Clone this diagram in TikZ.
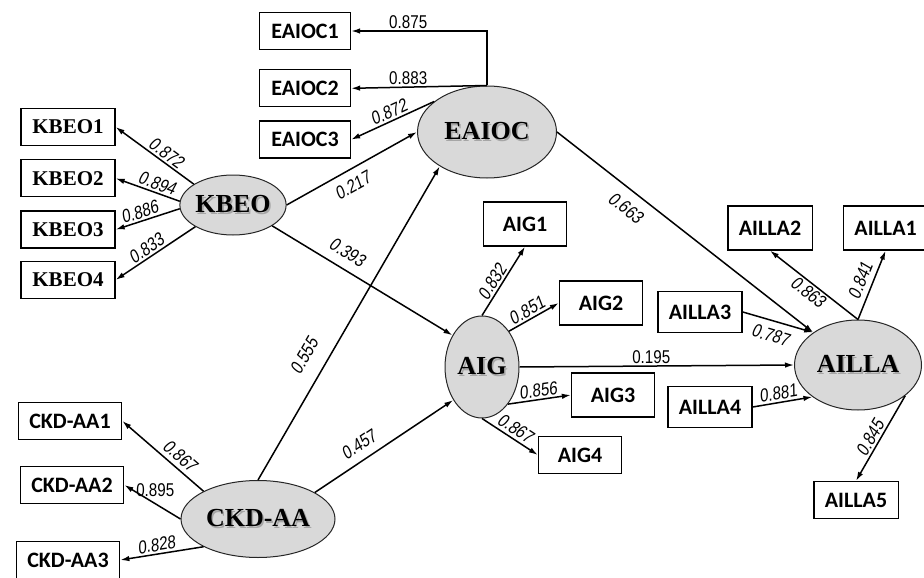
\documentclass[tikz,border=0pt]{standalone}
\usepackage{fontspec}
\usepackage{tikz}
\usetikzlibrary{positioning,shapes,arrows.meta}
\newfontfamily\sansfam{Carlito}
\newfontfamily\serfam{Liberation Serif}
\newfontfamily\numfam[FakeStretch=0.82]{Liberation Sans}
\newfontfamily\numslfam[FakeStretch=0.82,FakeSlant=0.15]{Liberation Sans}
\newcommand{\indfont}{\sansfam\bfseries\fontsize{22}{24}\selectfont}
\newcommand{\serind}{\serfam\bfseries\fontsize{21}{23}\selectfont}
\newcommand{\latfont}{\serfam\bfseries\fontsize{26}{28}\selectfont}
\newcommand{\coeffont}{\numfam\fontsize{18.5}{20}\selectfont}
\newcommand{\coefslfont}{\numslfam\fontsize{18.5}{20}\selectfont}
\newcommand{\shtext}[1]{\makebox[0pt][l]{\hspace{1.6pt}\raisebox{-1.6pt}{\color{black!35}#1}}#1}
\tikzstyle{ind}=[rectangle,fill=white,draw=black,line width=1.3pt,font=\indfont,minimum width=83pt,minimum height=37pt,inner xsep=11pt]
\tikzstyle{indser}=[ind,font=\serind]
\tikzstyle{tallind}=[ind,minimum height=44pt]
\tikzstyle{latent}=[ellipse,fill=black!15,draw=black!85,line width=1pt,font=\latfont,inner sep=0pt]
\tikzstyle{mypath}=[-{Latex[length=9pt,width=5.5pt]},line width=1.5pt]
\tikzstyle{coef}=[font=\coeffont,inner sep=2pt]
\tikzstyle{coefsl}=[coef,sloped,font=\coefslfont]

\begin{document}
\begin{tikzpicture}[x=1pt,y=-1pt]
                \useasboundingbox (0,0) rectangle (924,578);

                % latent constructs
                \node[latent,minimum width=106pt,minimum height=60pt] (kbeo) at (233,205) {\shtext{KBEO}};
                \node[latent,minimum width=139pt,minimum height=92pt] (eaioc) at (487,132) {\shtext{EAIOC}};
                \node[latent,minimum width=74pt,minimum height=102pt] (aig) at (482,367) {\shtext{AIG}};
                \node[latent,minimum width=127pt,minimum height=90pt] (ailla) at (858,365) {\shtext{AILLA}};
                \node[latent,minimum width=154pt,minimum height=77pt] (ckdaa) at (258,519) {\shtext{CKD-AA}};

                % indicators
                \node[indser,minimum width=94pt] (kbeoi) at (68,127) {KBEO1};
                \node[indser,minimum width=94pt,below=13pt of kbeoi] (kbeoii) {KBEO2};
                \node[indser,minimum width=94pt,below=13pt of kbeoii] (kbeoiii) {KBEO3};
                \node[indser,minimum width=94pt,below=12pt of kbeoiii] (kbeoiv) {KBEO4};

                \node[ind,minimum width=91pt] (eaioci) at (305,31) {EAIOC1};
                \node[ind,minimum width=91pt,below=19pt of eaioci] (eaiocii) {EAIOC2};
                \node[ind,minimum width=91pt,below=13pt of eaiocii] (eaiociii) {EAIOC3};

                \node[ind] (ckdaai) at (70,421) {CKD-AA1};
                \node[ind] (ckdaaii) at (72,485) {CKD-AA2};
                \node[ind] (ckdaaiii) at (68,560) {CKD-AA3};

                \node[tallind] (aigi) at (525,224) {AIG1};
                \node[tallind] (aigii) at (601,303) {AIG2};
                \node[tallind] (aigiii) at (613,395) {AIG3};
                \node[ind] (aigiv) at (580,455) {AIG4};

                \node[tallind] (aillaii) at (770,228) {AILLA2};
                \node[tallind,right=30pt of aillaii] (aillai) {AILLA1};
                \node[ind,minimum height=41pt] (aillaiii) at (700,312) {AILLA3};
                \node[ind,minimum height=41pt] (aillaiv) at (710,407) {AILLA4};
                \node[ind] (aillav) at (856,500) {AILLA5};

                % loadings
                \draw[mypath] (kbeo.152) -- node[coefsl,above,pos=0.42]{0.872} (kbeoi.east);
                \draw[mypath] (kbeo.176) -- node[coefsl,above,pos=0.4]{0.894} (kbeoii.east);
                \draw[mypath] (kbeo.184) -- node[coefsl,above,pos=0.58]{0.886} (kbeoiii.east);
                \draw[mypath] (kbeo.210) -- node[coefsl,above,pos=0.55]{0.833} (kbeoiv.east);

                \draw[mypath] (eaioc.north) |- node[coef,above,pos=0.79]{0.875} (eaioci);
                \draw[mypath] (eaioc.north) -- node[coef,above,pos=0.58]{0.883} (eaiocii.east);
                \draw[mypath] (eaioc.150) -- node[coefsl,above,pos=0.5]{0.872} (eaiociii.east);

                \draw[mypath] (ckdaa.153) -- node[coefsl,above=2pt,pos=0.38]{0.867} (ckdaai.east);
                \draw[mypath] (ckdaa.west) -- node[coef,above=4pt,pos=0.45]{0.895} (ckdaaii.east);
                \draw[mypath] (ckdaa.207) -- node[coefsl,above,pos=0.55]{0.828} (ckdaaiii.east);

                \draw[mypath] (aig.north) -- node[coefsl,above,pos=0.42]{0.832} (aigi.south);
                \draw[mypath] (aig.53) -- node[coefsl,above,pos=0.45]{0.851} (aigii.west);
                \draw[mypath] (aig.305) -- node[coefsl,above,pos=0.5]{0.856} (aigiii.west);
                \draw[mypath] (aig.south) -- node[coefsl,above=1pt,pos=0.5]{0.867} (aigiv.west);

                \draw[mypath] (ailla.north) -- node[coefsl,below,pos=0.5]{0.863} (aillaii.south);
                \draw[mypath] (ailla.north) -- node[coefsl,above=3pt,pos=0.5]{0.841} (aillai.south);
                \draw[mypath] (aillaiii.east) -- node[coefsl,below=5pt,pos=0.45]{0.787} (ailla.144);
                \draw[mypath] (aillaiv.east) -- node[coefsl,above,pos=0.45]{0.881} (ailla.215);
                \draw[mypath] (ailla.327) -- node[coefsl,above,pos=0.55]{0.845} (aillav.north);

                % structural paths
                \draw[mypath] (kbeo.east) -- node[coefsl,below=6pt,pos=0.45]{0.217} (eaioc.west);
                \draw[mypath] (kbeo.332) -- node[coefsl,above=7pt,pos=0.37]{0.393} (aig.133);
                \draw[mypath] (ckdaa.north) -- node[coefsl,above=13pt,pos=0.36]{0.555} (eaioc.216);
                \draw[mypath] (ckdaa.25) -- node[coefsl,above=6pt,pos=0.38]{0.457} (aig.229);
                \draw[mypath] (aig.east) -- node[coef,above,pos=0.48]{0.195} (ailla.west);
                \draw[mypath] (eaioc.east) -- node[coefsl,below=8pt,pos=0.31]{0.663} (ailla.144);
\end{tikzpicture}
\end{document}
